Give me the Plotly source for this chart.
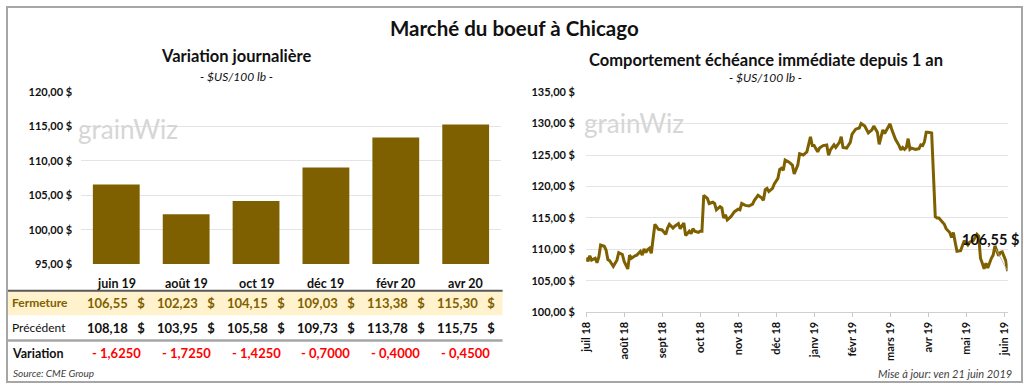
import plotly.graph_objects as go

# ---------------- data ----------------
contracts = ["juin 19", "août 19", "oct 19", "déc 19", "févr 20", "avr 20"]
fermeture = [106.55, 102.23, 104.15, 109.03, 113.38, 115.30]
precedent = [108.18, 103.95, 105.58, 109.73, 113.78, 115.75]
variation = [-1.6250, -1.7250, -1.4250, -0.7000, -0.4000, -0.4500]

left_yticks = [95, 100, 105, 110, 115, 120]
right_yticks = [100, 105, 110, 115, 120, 125, 130, 135]

month_labels = ["juil 18", "août 18", "sept 18", "oct 18", "nov 18", "déc 18",
                "janv 19", "févr 19", "mars 19", "avr 19", "mai 19", "juin 19"]
month_tick_index = [0, 21, 42, 63, 84, 105, 126, 147, 168, 189, 210, 231]

# trading-day index and nearby-contract price
day_index = [0, 1, 2, 3, 5, 6, 7, 8, 10, 11, 12, 13, 15, 17, 18, 20, 21, 23, 24, 25,
             27, 28, 30, 31, 32, 33, 34, 35, 36, 37, 38, 39, 40, 42, 44, 45, 46, 48, 49, 51,
             52, 54, 55, 57, 58, 59, 60, 62, 63, 64, 65, 67, 68, 70, 71, 72, 74, 75, 76, 77,
             78, 80, 81, 82, 84, 85, 86, 88, 90, 92, 93, 95, 97, 98, 99, 100, 101, 103, 104, 106,
             107, 108, 109, 110, 112, 114, 115, 117, 118, 120, 122, 124, 125, 126, 128, 129, 131, 133, 134, 135,
             137, 138, 140, 141, 142, 144, 146, 147, 149, 151, 152, 154, 156, 158, 159, 161, 162, 164, 165, 167,
             168, 169, 171, 173, 174, 175, 176, 177, 178, 179, 180, 182, 184, 185, 186, 187, 188, 189, 191, 193,
             194, 195, 196, 198, 199, 201, 202, 203, 204, 205, 207, 208, 209, 211, 212, 214, 216, 217, 218, 219,
             220, 221, 222, 224, 225, 226, 227, 228, 229, 230, 231, 232, 233]
price = [108.7, 108.1, 109.0, 108.3, 108.6, 107.9, 108.8, 110.7, 110.5, 109.9, 108.4, 108.2, 107.3, 108.3, 109.5, 109.2, 108.1, 106.9, 109.1, 108.6,
         109.0, 109.1, 109.7, 109.1, 110.1, 109.5, 110.0, 110.2, 109.4, 111.6, 114.0, 113.6, 113.2, 113.1, 112.4, 113.4, 114.0, 113.4, 113.7, 114.1,
         113.3, 114.2, 112.2, 112.9, 112.5, 113.3, 112.9, 112.7, 112.9, 112.9, 118.6, 118.1, 117.3, 117.5, 117.3, 116.3, 116.8, 116.6, 115.0, 115.5,
         114.7, 115.2, 115.7, 116.0, 116.4, 116.3, 117.3, 117.0, 116.9, 117.2, 117.8, 118.6, 118.2, 117.8, 119.5, 119.7, 119.2, 119.7, 120.4, 121.3,
         122.7, 122.9, 122.6, 124.2, 123.9, 123.4, 122.0, 123.4, 125.2, 125.0, 125.5, 127.9, 126.5, 126.5, 125.5, 126.1, 126.5, 126.6, 124.95, 125.8,
         126.6, 126.2, 127.0, 127.9, 126.2, 126.1, 127.0, 128.3, 129.1, 129.3, 130.0, 129.6, 128.5, 129.0, 129.6, 128.6, 126.7, 129.0, 128.4, 129.4,
         129.95, 129.0, 127.5, 126.5, 125.8, 126.2, 125.9, 126.2, 127.6, 125.9, 126.1, 125.9, 126.0, 126.6, 126.5, 127.1, 128.6, 128.6, 128.5, 115.2,
         115.0, 115.0, 114.7, 114.0, 113.3, 112.7, 111.9, 112.7, 111.15, 109.7, 109.8, 110.6, 111.4, 110.7, 111.15, 111.4, 112.4, 112.1, 108.6, 107.8,
         106.95, 107.8, 107.05, 108.6, 109.1, 110.6, 109.7, 109.0, 109.5, 109.6, 108.9, 108.18, 106.55]

# ---------------- styling ----------------
GOLD = "#7F6000"
FONT = "Lato, 'Open Sans', sans-serif"
W, H = 1024, 388


def px_x(x):
    return x / W


def px_y(y):
    return 1 - y / H


def fr(v, d=2):
    return f"{v:.{d}f}".replace(".", ",")


fig = go.Figure()

fig.add_trace(go.Bar(
    x=contracts, y=fermeture, marker=dict(color=GOLD, line=dict(width=0)),
    xaxis="x", yaxis="y", showlegend=False, hoverinfo="skip"))

fig.add_trace(go.Scatter(
    x=day_index, y=price, mode="lines", line=dict(color=GOLD, width=3),
    xaxis="x2", yaxis="y2", showlegend=False, hoverinfo="skip"))

tickfont = dict(family=FONT, size=11, color="#111111", weight="bold")

fig.update_layout(
    width=W, height=H,
    margin=dict(l=0, r=0, t=0, b=0),
    paper_bgcolor="white", plot_bgcolor="white",
    font=dict(family=FONT, color="#111111"),
    bargap=0.33,
    xaxis=dict(domain=[px_x(75), px_x(498)], showticklabels=False, showgrid=False,
               zeroline=False, showline=False, fixedrange=True),
    yaxis=dict(domain=[px_y(266), px_y(88)], range=[95, 120], tickvals=left_yticks,
               ticktext=[fr(v) + " $" for v in left_yticks], tickfont=tickfont,
               showgrid=True, gridcolor="#E4E4E4", gridwidth=1, zeroline=False,
               ticks="outside", ticklen=6, tickcolor="rgba(0,0,0,0)"),
    xaxis2=dict(domain=[px_x(584.3), px_x(1009.5)], range=[0, 233], tickvals=month_tick_index,
                ticktext=month_labels, tickangle=-90, tickfont=tickfont,
                showgrid=False, zeroline=False, showline=True, linecolor="#D0D0D0", linewidth=1,
                ticks="outside", ticklen=4, tickcolor="#C8C8C8", anchor="y2"),
    yaxis2=dict(domain=[px_y(316), px_y(88)], range=[100, 135], tickvals=right_yticks,
                ticktext=[fr(v) + " $" for v in right_yticks], tickfont=tickfont,
                showgrid=True, gridcolor="#E4E4E4", gridwidth=1, zeroline=False,
                ticks="outside", ticklen=8, tickcolor="rgba(0,0,0,0)", anchor="x2"),
)

shapes = [
    # outer border
    dict(type="rect", xref="paper", yref="paper", x0=0, x1=1, y0=0, y1=1,
         line=dict(color="#A6A6A6", width=2), layer="above"),
    # Fermeture band
    dict(type="rect", xref="paper", yref="paper", x0=px_x(1), x1=px_x(500),
         y0=px_y(319), y1=px_y(294), fillcolor="#FFF2CC", line=dict(width=0), layer="below"),
    dict(type="line", xref="paper", yref="paper", x0=px_x(1), x1=px_x(500),
         y0=px_y(293.5), y1=px_y(293.5), line=dict(color="#595959", width=2)),
    dict(type="line", xref="paper", yref="paper", x0=px_x(1), x1=px_x(500),
         y0=px_y(345), y1=px_y(345), line=dict(color="#A6A6A6", width=2.5)),
]
fig.update_layout(shapes=shapes)

ann = []


def text(x, y, t, size=12, bold=False, italic=False, color="#111111", xanchor="center",
         xref="paper"):
    t2 = f"<i>{t}</i>" if italic else t
    ann.append(dict(x=x, y=y, xref=xref, yref="paper", text=t2, showarrow=False,
                    xanchor=xanchor, yanchor="middle",
                    font=dict(family=FONT, size=size, color=color,
                              weight="bold" if bold else "normal")))


text(0.5, px_y(22), "Marché du boeuf à Chicago", size=20.5, bold=True)
text(px_x(231), px_y(51), "Variation journalière", size=16.5, bold=True)
text(px_x(232), px_y(72), "- $US/100 lb -", size=12, italic=True)
text(px_x(766), px_y(55), "Comportement échéance immédiate depuis 1 an", size=16.5, bold=True)
text(px_x(765), px_y(73), "- $US/100 lb -", size=12, italic=True)

# watermarks
text(px_x(70), px_y(126), "grainWiz", size=26, color="#D6D6D6", xanchor="left")
text(px_x(580), px_y(120), "grainWiz", size=26, color="#D6D6D6", xanchor="left")

# table
text(px_x(3), px_y(306), "Fermeture", size=12, bold=True, color=GOLD, xanchor="left")
text(px_x(3), px_y(332), "Précédent", size=12, xanchor="left")
text(px_x(3), px_y(358), "Variation", size=12.5, bold=True, xanchor="left")
NB = "\u00a0"
for c, f, p, v in zip(contracts, fermeture, precedent, variation):
    text(c, px_y(286), c, size=12.5, bold=True, xref="x")
    text(c, px_y(306), fr(f) + NB * 3 + "$", size=13, bold=True, color=GOLD, xref="x")
    text(c, px_y(332), fr(p) + NB * 3 + "$", size=13, bold=True, xref="x")
    sign = "-" if v < 0 else "+"
    text(c, px_y(358), f"{sign} {fr(abs(v), 4)}", size=13, bold=True, color="#FF0000", xref="x")

text(px_x(4), px_y(379), "Source: CME Group", size=10, italic=True, color="#404040", xanchor="left")
text(px_x(1016), px_y(379), "Mise à jour: ven 21 juin 2019", size=11, italic=True,
     color="#404040", xanchor="right")

fig.update_layout(annotations=ann)

# last value label
fig.add_annotation(x=day_index[-1], y=price[-1], xref="x2", yref="y2",
                   text=fr(price[-1]) + " $", showarrow=True, arrowhead=0,
                   arrowwidth=0.8, arrowcolor="#B0B0B0", ax=-17, ay=-32, standoff=0,
                   font=dict(family=FONT, size=14.5, color="#111111", weight="bold"))

fig.write_html("out.html", config={"displayModeBar": False},
               post_script="document.body.style.margin='0';document.body.style.overflow='hidden';")
